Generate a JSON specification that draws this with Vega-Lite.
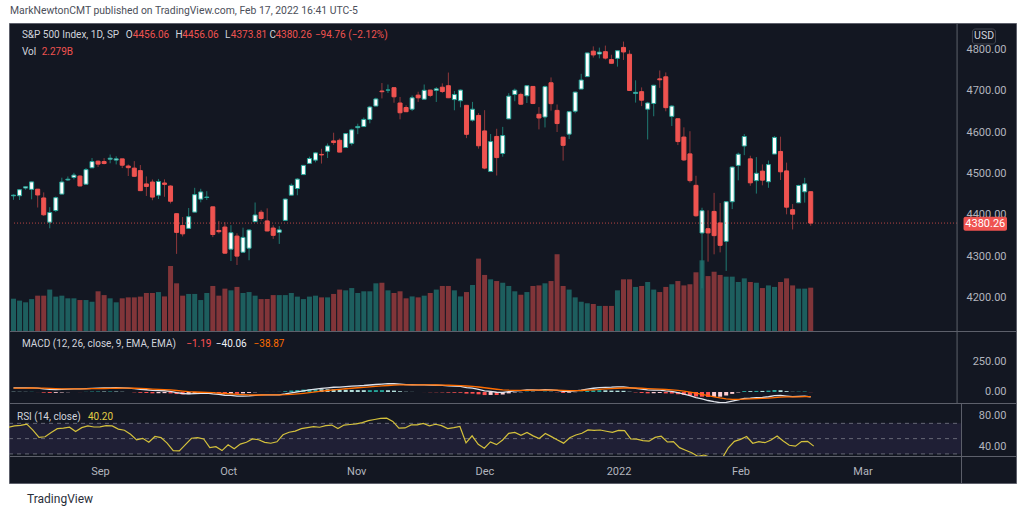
{
"$schema": "https://vega.github.io/schema/vega-lite/v6.json",
"background": "#ffffff",
"padding": {"left": 8, "right": 9, "top": 5, "bottom": 6},
"title": {"text": "MarkNewtonCMT published on TradingView.com, Feb 17, 2022 16:41 UTC-5", "anchor": "start", "fontSize": 10.4, "fontWeight": "normal", "color": "#4c4f5a", "offset": 6, "dx": 2},
"config": {"view": {"fill": "#131722", "stroke": "#5d606b", "strokeWidth": 1}, "font": "Roboto"},
"datasets": {
"one": [{"k": 1}],
"lv": [{"lv": 70}, {"lv": 50}, {"lv": 30}],
"d": [
{"i":0,"o":4446.08,"h":4449.44,"l":4436.42,"c":4447.7,"v":1.7,"m":34.0,"s":31.6,"hh":2.4,"hc":"pd","r":65.0},
{"i":1,"o":4446.27,"h":4461.77,"l":4435.96,"c":4460.83,"v":1.6,"m":33.8,"s":32.1,"hh":1.8,"hc":"pd","r":66.6},
{"i":2,"o":4464.84,"h":4468.37,"l":4460.82,"c":4468.0,"v":1.51,"m":33.9,"s":32.4,"hh":1.5,"hc":"pd","r":67.4},
{"i":3,"o":4461.65,"h":4480.26,"l":4437.66,"c":4479.71,"v":1.68,"m":34.5,"s":32.8,"hh":1.7,"hc":"pu","r":68.9},
{"i":4,"o":4462.12,"h":4462.12,"l":4417.83,"c":4448.08,"v":1.86,"m":32.1,"s":32.7,"hh":-0.6,"hc":"nd","r":61.1},
{"i":5,"o":4440.94,"h":4454.32,"l":4397.59,"c":4400.27,"v":1.86,"m":26.0,"s":31.4,"hh":-5.4,"hc":"nd","r":51.6},
{"i":6,"o":4382.44,"h":4418.61,"l":4367.73,"c":4405.8,"v":2.18,"m":21.4,"s":29.4,"hh":-8.0,"hc":"nd","r":52.5},
{"i":7,"o":4410.56,"h":4444.35,"l":4406.8,"c":4441.67,"v":1.81,"m":20.4,"s":27.6,"hh":-7.2,"hc":"nu","r":58.1},
{"i":8,"o":4450.29,"h":4489.88,"l":4450.29,"c":4479.53,"v":1.86,"m":22.4,"s":26.5,"hh":-4.2,"hc":"nu","r":63.0},
{"i":9,"o":4484.4,"h":4492.81,"l":4482.28,"c":4486.23,"v":1.72,"m":24.2,"s":26.1,"hh":-1.9,"hc":"nu","r":63.8},
{"i":10,"o":4490.45,"h":4501.71,"l":4485.66,"c":4496.19,"v":1.72,"m":26.2,"s":26.1,"hh":0.1,"hc":"pu","r":65.0},
{"i":11,"o":4493.75,"h":4495.9,"l":4468.99,"c":4469.91,"v":1.63,"m":25.3,"s":25.9,"hh":-0.6,"hc":"nd","r":59.3},
{"i":12,"o":4474.1,"h":4513.33,"l":4474.1,"c":4509.37,"v":1.63,"m":27.5,"s":26.2,"hh":1.3,"hc":"pu","r":64.4},
{"i":13,"o":4513.76,"h":4537.36,"l":4513.76,"c":4528.79,"v":1.54,"m":30.4,"s":27.1,"hh":3.4,"hc":"pu","r":66.6},
{"i":14,"o":4529.75,"h":4531.39,"l":4515.8,"c":4522.68,"v":2.09,"m":31.9,"s":28.0,"hh":3.9,"hc":"pu","r":65.2},
{"i":15,"o":4528.8,"h":4537.11,"l":4522.02,"c":4524.09,"v":1.89,"m":32.8,"s":29.0,"hh":3.8,"hc":"pd","r":65.4},
{"i":16,"o":4534.48,"h":4545.85,"l":4524.66,"c":4536.95,"v":1.72,"m":34.2,"s":30.0,"hh":4.2,"hc":"pu","r":67.0},
{"i":17,"o":4532.42,"h":4541.45,"l":4521.94,"c":4535.43,"v":1.51,"m":34.8,"s":31.0,"hh":3.8,"hc":"pd","r":66.6},
{"i":18,"o":4535.38,"h":4535.38,"l":4513.0,"c":4520.03,"v":1.72,"m":33.6,"s":31.5,"hh":2.1,"hc":"pd","r":62.5},
{"i":19,"o":4518.09,"h":4521.79,"l":4493.95,"c":4514.07,"v":1.77,"m":31.8,"s":31.6,"hh":0.2,"hc":"pd","r":61.0},
{"i":20,"o":4513.02,"h":4529.9,"l":4492.07,"c":4493.28,"v":1.77,"m":28.4,"s":30.9,"hh":-2.6,"hc":"nd","r":55.8},
{"i":21,"o":4506.92,"h":4520.47,"l":4457.66,"c":4458.58,"v":1.81,"m":22.6,"s":29.2,"hh":-6.7,"hc":"nd","r":48.3},
{"i":22,"o":4474.81,"h":4492.99,"l":4445.7,"c":4468.73,"v":2.0,"m":18.6,"s":27.1,"hh":-8.5,"hc":"nd","r":50.4},
{"i":23,"o":4479.33,"h":4485.68,"l":4435.46,"c":4443.05,"v":2.0,"m":13.2,"s":24.3,"hh":-11.1,"hc":"nd","r":45.4},
{"i":24,"o":4447.49,"h":4486.87,"l":4438.37,"c":4480.7,"v":2.05,"m":11.9,"s":21.9,"hh":-10.0,"hc":"nu","r":52.8},
{"i":25,"o":4477.09,"h":4485.87,"l":4443.8,"c":4473.75,"v":1.82,"m":10.1,"s":19.5,"hh":-9.4,"hc":"nu","r":51.4},
{"i":26,"o":4469.74,"h":4471.52,"l":4427.76,"c":4432.99,"v":3.42,"m":5.4,"s":16.7,"hh":-11.3,"hc":"nd","r":44.1},
{"i":27,"o":4402.95,"h":4402.95,"l":4305.91,"c":4357.73,"v":2.51,"m":-4.4,"s":12.5,"hh":-16.9,"hc":"nd","r":34.4},
{"i":28,"o":4374.45,"h":4394.87,"l":4347.96,"c":4354.19,"v":1.86,"m":-12.3,"s":7.5,"hh":-19.8,"hc":"nd","r":34.0},
{"i":29,"o":4367.43,"h":4416.75,"l":4367.43,"c":4395.64,"v":1.95,"m":-15.0,"s":3.0,"hh":-18.0,"hc":"nu","r":42.1},
{"i":30,"o":4406.75,"h":4465.4,"l":4406.75,"c":4448.98,"v":1.95,"m":-12.7,"s":-0.1,"hh":-12.6,"hc":"nu","r":50.5},
{"i":31,"o":4438.04,"h":4463.12,"l":4430.27,"c":4455.48,"v":1.63,"m":-10.3,"s":-2.2,"hh":-8.1,"hc":"nu","r":51.4},
{"i":32,"o":4442.12,"h":4457.3,"l":4436.19,"c":4443.11,"v":2.0,"m":-9.2,"s":-3.6,"hh":-5.7,"hc":"nu","r":49.5},
{"i":33,"o":4419.54,"h":4419.54,"l":4346.33,"c":4352.63,"v":2.37,"m":-15.5,"s":-6.0,"hh":-9.6,"hc":"nd","r":38.4},
{"i":34,"o":4362.41,"h":4385.57,"l":4355.08,"c":4359.46,"v":1.86,"m":-19.7,"s":-8.7,"hh":-11.0,"hc":"nd","r":39.5},
{"i":35,"o":4370.67,"h":4382.55,"l":4306.24,"c":4307.54,"v":2.23,"m":-26.9,"s":-12.4,"hh":-14.6,"hc":"nd","r":34.4},
{"i":36,"o":4317.16,"h":4375.19,"l":4288.52,"c":4357.04,"v":2.14,"m":-28.3,"s":-15.6,"hh":-12.8,"hc":"nu","r":42.0},
{"i":37,"o":4348.84,"h":4355.51,"l":4278.94,"c":4300.46,"v":2.32,"m":-33.6,"s":-19.2,"hh":-14.5,"hc":"nd","r":36.8},
{"i":38,"o":4309.87,"h":4369.23,"l":4309.87,"c":4345.72,"v":2.0,"m":-33.8,"s":-22.1,"hh":-11.7,"hc":"nu","r":42.9},
{"i":39,"o":4319.57,"h":4365.57,"l":4290.49,"c":4363.55,"v":2.05,"m":-32.1,"s":-24.1,"hh":-8.0,"hc":"nu","r":45.2},
{"i":40,"o":4383.73,"h":4429.97,"l":4383.73,"c":4399.76,"v":1.86,"m":-27.5,"s":-24.8,"hh":-2.7,"hc":"nu","r":49.6},
{"i":41,"o":4406.51,"h":4412.02,"l":4386.22,"c":4391.34,"v":1.68,"m":-24.3,"s":-24.7,"hh":0.4,"hc":"pu","r":48.6},
{"i":42,"o":4385.44,"h":4415.88,"l":4360.59,"c":4361.19,"v":1.68,"m":-23.9,"s":-24.5,"hh":0.7,"hc":"pu","r":45.2},
{"i":43,"o":4368.31,"h":4374.89,"l":4342.09,"c":4350.65,"v":1.89,"m":-24.1,"s":-24.4,"hh":0.3,"hc":"pd","r":44.0},
{"i":44,"o":4358.01,"h":4372.87,"l":4329.92,"c":4363.8,"v":1.89,"m":-23.0,"s":-24.1,"hh":1.2,"hc":"pu","r":45.9},
{"i":45,"o":4386.75,"h":4439.73,"l":4386.75,"c":4438.26,"v":1.89,"m":-15.9,"s":-22.5,"hh":6.6,"hc":"pu","r":55.1},
{"i":46,"o":4447.69,"h":4475.82,"l":4447.69,"c":4471.37,"v":2.0,"m":-7.5,"s":-19.5,"hh":12.0,"hc":"pu","r":58.4},
{"i":47,"o":4463.72,"h":4488.75,"l":4447.47,"c":4486.46,"v":1.81,"m":0.3,"s":-15.5,"hh":15.9,"hc":"pu","r":59.9},
{"i":48,"o":4497.34,"h":4520.4,"l":4496.41,"c":4519.63,"v":1.68,"m":9.1,"s":-10.6,"hh":19.7,"hc":"pu","r":63.0},
{"i":49,"o":4524.42,"h":4540.87,"l":4524.4,"c":4536.19,"v":1.81,"m":17.2,"s":-5.1,"hh":22.3,"hc":"pu","r":64.5},
{"i":50,"o":4532.24,"h":4551.44,"l":4526.89,"c":4549.78,"v":1.86,"m":24.5,"s":0.9,"hh":23.6,"hc":"pu","r":65.7},
{"i":51,"o":4546.12,"h":4559.67,"l":4524.0,"c":4544.9,"v":1.77,"m":29.5,"s":6.6,"hh":22.9,"hc":"pd","r":64.9},
{"i":52,"o":4553.69,"h":4572.62,"l":4537.36,"c":4566.48,"v":1.77,"m":34.8,"s":12.2,"hh":22.5,"hc":"pd","r":66.9},
{"i":53,"o":4578.69,"h":4598.53,"l":4569.17,"c":4574.79,"v":1.95,"m":39.2,"s":17.6,"hh":21.6,"hc":"pd","r":67.7},
{"i":54,"o":4580.22,"h":4584.57,"l":4551.66,"c":4551.68,"v":2.18,"m":40.4,"s":22.2,"hh":18.2,"hc":"pd","r":63.2},
{"i":55,"o":4562.84,"h":4597.55,"l":4562.84,"c":4596.42,"v":2.14,"m":44.4,"s":26.6,"hh":17.8,"hc":"pd","r":67.7},
{"i":56,"o":4572.87,"h":4608.08,"l":4567.59,"c":4605.38,"v":2.26,"m":47.8,"s":30.8,"hh":16.9,"hc":"pd","r":68.5},
{"i":57,"o":4610.62,"h":4620.34,"l":4595.06,"c":4613.67,"v":2.0,"m":50.5,"s":34.8,"hh":15.7,"hc":"pd","r":69.3},
{"i":58,"o":4613.34,"h":4635.15,"l":4613.34,"c":4630.65,"v":2.09,"m":53.4,"s":38.5,"hh":14.9,"hc":"pd","r":70.9},
{"i":59,"o":4630.65,"h":4663.46,"l":4621.19,"c":4660.57,"v":2.09,"m":57.5,"s":42.3,"hh":15.2,"hc":"pu","r":73.5},
{"i":60,"o":4662.93,"h":4683.0,"l":4662.59,"c":4680.06,"v":2.51,"m":61.6,"s":46.2,"hh":15.5,"hc":"pu","r":75.0},
{"i":61,"o":4699.26,"h":4718.5,"l":4681.32,"c":4697.53,"v":2.54,"m":65.5,"s":50.0,"hh":15.5,"hc":"pu","r":76.4},
{"i":62,"o":4701.48,"h":4714.92,"l":4694.39,"c":4701.7,"v":2.14,"m":68.2,"s":53.7,"hh":14.5,"hc":"pd","r":76.7},
{"i":63,"o":4707.25,"h":4708.53,"l":4670.87,"c":4685.25,"v":2.0,"m":68.1,"s":56.6,"hh":11.6,"hc":"pd","r":72.5},
{"i":64,"o":4670.26,"h":4684.85,"l":4630.86,"c":4646.71,"v":2.09,"m":64.3,"s":58.1,"hh":6.2,"hc":"pd","r":63.7},
{"i":65,"o":4659.39,"h":4664.55,"l":4648.31,"c":4649.27,"v":1.72,"m":60.7,"s":58.6,"hh":2.1,"hc":"pd","r":64.0},
{"i":66,"o":4655.24,"h":4688.47,"l":4650.77,"c":4682.85,"v":1.82,"m":59.9,"s":58.9,"hh":1.0,"hc":"pd","r":67.9},
{"i":67,"o":4689.3,"h":4697.42,"l":4672.86,"c":4682.8,"v":1.77,"m":58.6,"s":58.8,"hh":-0.2,"hc":"nd","r":67.9},
{"i":68,"o":4679.42,"h":4714.95,"l":4679.42,"c":4700.9,"v":1.86,"m":58.3,"s":58.7,"hh":-0.4,"hc":"nd","r":69.9},
{"i":69,"o":4701.5,"h":4701.5,"l":4684.41,"c":4688.67,"v":2.0,"m":56.5,"s":58.3,"hh":-1.8,"hc":"nd","r":66.8},
{"i":70,"o":4700.72,"h":4708.8,"l":4672.78,"c":4704.54,"v":2.18,"m":55.7,"s":57.8,"hh":-2.1,"hc":"nd","r":68.8},
{"i":71,"o":4708.44,"h":4717.75,"l":4694.22,"c":4697.96,"v":2.37,"m":53.9,"s":57.0,"hh":-3.1,"hc":"nd","r":67.0},
{"i":72,"o":4712.0,"h":4743.83,"l":4682.17,"c":4682.94,"v":2.37,"m":50.7,"s":55.7,"hh":-5.1,"hc":"nd","r":63.1},
{"i":73,"o":4678.48,"h":4699.39,"l":4652.66,"c":4690.7,"v":2.14,"m":48.2,"s":54.2,"hh":-6.0,"hc":"nd","r":64.3},
{"i":74,"o":4675.78,"h":4702.87,"l":4659.89,"c":4701.46,"v":1.82,"m":46.5,"s":52.7,"hh":-6.1,"hc":"nd","r":65.9},
{"i":75,"o":4664.63,"h":4664.63,"l":4585.43,"c":4594.62,"v":2.05,"m":36.2,"s":49.4,"hh":-13.2,"hc":"nd","r":44.5},
{"i":76,"o":4628.75,"h":4672.95,"l":4625.26,"c":4655.27,"v":2.42,"m":32.5,"s":46.0,"hh":-13.5,"hc":"nd","r":53.7},
{"i":77,"o":4640.25,"h":4646.02,"l":4560.0,"c":4567.0,"v":3.81,"m":22.3,"s":41.3,"hh":-19.0,"hc":"nd","r":42.6},
{"i":78,"o":4602.82,"h":4652.94,"l":4510.27,"c":4513.04,"v":2.95,"m":9.6,"s":34.9,"hh":-25.3,"hc":"nd","r":37.5},
{"i":79,"o":4504.73,"h":4595.46,"l":4504.73,"c":4577.1,"v":2.72,"m":4.8,"s":28.9,"hh":-24.2,"hc":"nu","r":45.8},
{"i":80,"o":4589.49,"h":4608.03,"l":4495.12,"c":4538.43,"v":2.63,"m":-2.2,"s":22.7,"hh":-24.9,"hc":"nd","r":42.2},
{"i":81,"o":4548.37,"h":4612.6,"l":4540.51,"c":4591.67,"v":2.54,"m":-3.4,"s":17.5,"hh":-20.9,"hc":"nu","r":48.2},
{"i":82,"o":4631.97,"h":4694.04,"l":4631.97,"c":4686.75,"v":2.37,"m":3.3,"s":14.6,"hh":-11.3,"hc":"nu","r":57.0},
{"i":83,"o":4690.86,"h":4705.06,"l":4674.52,"c":4701.21,"v":2.09,"m":9.6,"s":13.6,"hh":-4.0,"hc":"nu","r":58.1},
{"i":84,"o":4691.0,"h":4695.26,"l":4665.98,"c":4667.45,"v":1.91,"m":11.8,"s":13.3,"hh":-1.4,"hc":"nu","r":54.4},
{"i":85,"o":4687.64,"h":4713.57,"l":4670.24,"c":4712.02,"v":2.05,"m":17.0,"s":14.0,"hh":3.0,"hc":"pu","r":58.2},
{"i":86,"o":4710.3,"h":4710.3,"l":4667.6,"c":4668.97,"v":2.37,"m":17.3,"s":14.7,"hh":2.7,"hc":"pd","r":53.6},
{"i":87,"o":4642.99,"h":4660.47,"l":4606.52,"c":4634.09,"v":2.4,"m":14.7,"s":14.7,"hh":0.0,"hc":"pd","r":50.1},
{"i":88,"o":4636.46,"h":4712.6,"l":4611.22,"c":4709.85,"v":2.51,"m":18.5,"s":15.4,"hh":3.0,"hc":"pu","r":56.7},
{"i":89,"o":4719.13,"h":4731.99,"l":4651.89,"c":4668.67,"v":2.63,"m":17.9,"s":15.9,"hh":2.0,"hc":"pd","r":52.6},
{"i":90,"o":4652.5,"h":4666.7,"l":4600.22,"c":4620.64,"v":4.04,"m":13.5,"s":15.4,"hh":-2.0,"hc":"nd","r":48.3},
{"i":91,"o":4587.9,"h":4587.9,"l":4531.1,"c":4568.02,"v":2.37,"m":5.6,"s":13.5,"hh":-7.9,"hc":"nd","r":44.1},
{"i":92,"o":4594.96,"h":4651.14,"l":4583.16,"c":4649.23,"v":2.18,"m":5.9,"s":12.0,"hh":-6.1,"hc":"nu","r":51.2},
{"i":93,"o":4650.36,"h":4697.67,"l":4645.53,"c":4696.56,"v":1.77,"m":9.8,"s":11.5,"hh":-1.7,"hc":"nu","r":54.8},
{"i":94,"o":4703.96,"h":4740.74,"l":4703.96,"c":4725.79,"v":1.54,"m":15.1,"s":12.3,"hh":2.9,"hc":"pu","r":57.0},
{"i":95,"o":4733.99,"h":4791.49,"l":4733.99,"c":4791.19,"v":1.46,"m":24.3,"s":14.7,"hh":9.6,"hc":"pu","r":61.4},
{"i":96,"o":4795.49,"h":4807.02,"l":4780.04,"c":4786.35,"v":1.42,"m":30.8,"s":17.9,"hh":12.9,"hc":"pu","r":60.9},
{"i":97,"o":4788.64,"h":4804.06,"l":4778.08,"c":4793.06,"v":1.32,"m":36.2,"s":21.6,"hh":14.6,"hc":"pu","r":61.3},
{"i":98,"o":4794.23,"h":4808.93,"l":4775.33,"c":4778.73,"v":1.32,"m":38.8,"s":25.0,"hh":13.8,"hc":"pd","r":59.7},
{"i":99,"o":4775.21,"h":4786.83,"l":4765.75,"c":4766.18,"v":1.32,"m":39.4,"s":27.9,"hh":11.5,"hc":"pd","r":58.2},
{"i":100,"o":4778.14,"h":4796.64,"l":4758.17,"c":4796.56,"v":2.14,"m":41.8,"s":30.7,"hh":11.1,"hc":"pd","r":60.7},
{"i":101,"o":4804.51,"h":4818.62,"l":4774.27,"c":4793.54,"v":2.72,"m":43.0,"s":33.1,"hh":9.9,"hc":"pd","r":60.4},
{"i":102,"o":4787.99,"h":4797.7,"l":4699.44,"c":4700.58,"v":2.72,"m":36.0,"s":33.7,"hh":2.3,"hc":"pd","r":49.8},
{"i":103,"o":4693.39,"h":4725.01,"l":4671.26,"c":4696.05,"v":2.32,"m":29.8,"s":32.9,"hh":-3.1,"hc":"nd","r":49.4},
{"i":104,"o":4697.66,"h":4707.95,"l":4662.74,"c":4677.03,"v":2.37,"m":23.1,"s":31.0,"hh":-7.9,"hc":"nd","r":47.4},
{"i":105,"o":4655.34,"h":4673.02,"l":4582.24,"c":4670.29,"v":2.58,"m":17.0,"s":28.2,"hh":-11.2,"hc":"nd","r":46.7},
{"i":106,"o":4669.14,"h":4714.13,"l":4638.27,"c":4713.07,"v":2.18,"m":15.4,"s":25.6,"hh":-10.2,"hc":"nu","r":51.6},
{"i":107,"o":4728.59,"h":4748.83,"l":4706.71,"c":4726.35,"v":2.05,"m":15.1,"s":23.5,"hh":-8.4,"hc":"nu","r":53.1},
{"i":108,"o":4733.56,"h":4744.13,"l":4650.29,"c":4659.03,"v":2.32,"m":9.3,"s":20.7,"hh":-11.4,"hc":"nd","r":45.6},
{"i":109,"o":4637.99,"h":4665.13,"l":4614.75,"c":4662.85,"v":2.46,"m":5.0,"s":17.5,"hh":-12.6,"hc":"nd","r":46.1},
{"i":110,"o":4632.24,"h":4632.24,"l":4568.7,"c":4577.11,"v":2.63,"m":-5.3,"s":13.0,"hh":-18.3,"hc":"nd","r":38.2},
{"i":111,"o":4588.03,"h":4611.55,"l":4530.2,"c":4532.76,"v":2.4,"m":-16.9,"s":7.0,"hh":-23.9,"hc":"nd","r":34.9},
{"i":112,"o":4547.35,"h":4602.11,"l":4477.95,"c":4482.73,"v":2.46,"m":-29.7,"s":-0.4,"hh":-29.4,"hc":"nd","r":31.6},
{"i":113,"o":4471.38,"h":4494.52,"l":4395.34,"c":4397.94,"v":3.09,"m":-46.2,"s":-9.5,"hh":-36.7,"hc":"nd","r":26.9},
{"i":114,"o":4356.32,"h":4417.35,"l":4222.62,"c":4410.13,"v":3.72,"m":-57.6,"s":-19.2,"hh":-38.5,"hc":"nd","r":28.6},
{"i":115,"o":4366.64,"h":4411.01,"l":4287.11,"c":4356.45,"v":2.89,"m":-70.2,"s":-29.4,"hh":-40.8,"hc":"nd","r":25.8},
{"i":116,"o":4408.43,"h":4453.23,"l":4304.8,"c":4349.93,"v":3.12,"m":-79.8,"s":-39.4,"hh":-40.3,"hc":"nu","r":25.5},
{"i":117,"o":4380.58,"h":4428.74,"l":4309.5,"c":4326.51,"v":2.95,"m":-88.2,"s":-49.2,"hh":-39.0,"hc":"nu","r":24.3},
{"i":118,"o":4336.19,"h":4432.72,"l":4264.71,"c":4431.85,"v":2.86,"m":-85.5,"s":-56.5,"hh":-29.0,"hc":"nu","r":38.1},
{"i":119,"o":4431.79,"h":4516.89,"l":4414.02,"c":4515.55,"v":2.86,"m":-75.6,"s":-60.3,"hh":-15.3,"hc":"nu","r":46.4},
{"i":120,"o":4519.57,"h":4550.49,"l":4483.53,"c":4546.54,"v":2.58,"m":-64.6,"s":-61.1,"hh":-3.5,"hc":"nu","r":49.1},
{"i":121,"o":4566.39,"h":4595.31,"l":4544.32,"c":4589.38,"v":2.77,"m":-51.8,"s":-59.3,"hh":7.5,"hc":"pu","r":52.7},
{"i":122,"o":4535.41,"h":4542.88,"l":4470.39,"c":4477.44,"v":2.58,"m":-50.1,"s":-57.4,"hh":7.3,"hc":"pd","r":44.0},
{"i":123,"o":4482.79,"h":4539.66,"l":4451.5,"c":4500.53,"v":2.54,"m":-46.4,"s":-55.2,"hh":8.9,"hc":"pu","r":46.0},
{"i":124,"o":4505.75,"h":4521.86,"l":4471.47,"c":4483.87,"v":2.26,"m":-44.2,"s":-53.0,"hh":8.8,"hc":"pd","r":44.7},
{"i":125,"o":4480.02,"h":4531.32,"l":4465.4,"c":4521.54,"v":2.4,"m":-39.1,"s":-50.2,"hh":11.2,"hc":"pu","r":48.1},
{"i":126,"o":4547.0,"h":4590.03,"l":4547.0,"c":4587.18,"v":2.32,"m":-29.3,"s":-46.1,"hh":16.7,"hc":"pu","r":53.5},
{"i":127,"o":4553.24,"h":4588.92,"l":4484.31,"c":4504.08,"v":2.58,"m":-28.0,"s":-42.4,"hh":14.5,"hc":"pd","r":46.9},
{"i":128,"o":4506.27,"h":4526.33,"l":4401.41,"c":4418.64,"v":2.77,"m":-33.4,"s":-40.6,"hh":7.2,"hc":"pd","r":41.3},
{"i":129,"o":4412.61,"h":4426.22,"l":4364.84,"c":4401.67,"v":2.4,"m":-38.7,"s":-40.3,"hh":1.6,"hc":"pd","r":40.2},
{"i":130,"o":4429.28,"h":4472.77,"l":4429.28,"c":4471.07,"v":2.23,"m":-36.8,"s":-39.6,"hh":2.8,"hc":"pu","r":46.2},
{"i":131,"o":4455.75,"h":4489.55,"l":4429.68,"c":4475.01,"v":2.23,"m":-34.6,"s":-38.6,"hh":4.0,"hc":"pu","r":46.5},
{"i":132,"o":4456.06,"h":4456.06,"l":4373.81,"c":4380.26,"v":2.28,"m":-40.1,"s":-38.9,"hh":-1.2,"hc":"nd","r":40.2}
]
},
"spacing": 0,
"bounds": "flush",
"resolve": {"scale": {"y": "independent", "color": "independent"}},
"vconcat": [
{
"width": 1007, "height": 308,
"data": {"name": "d"},
"resolve": {"scale": {"y": "independent"}},
"layer": [
{"mark": {"type": "bar", "size": 5, "clip": true},
 "encoding": {
  "x": {"field": "i", "type": "quantitative", "scale": {"domain": [0.08, 165.16], "nice": false, "zero": false}, "axis": null},
  "y": {"field": "v", "type": "quantitative", "scale": {"domain": [0, 16.21], "nice": false}, "axis": null},
  "color": {"condition": {"test": "datum.c >= datum.o", "value": "#1d5e5e"}, "value": "#813539"}}},
{"layer": [
 {"mark": {"type": "rule", "strokeWidth": 1, "clip": true},
  "encoding": {
   "x": {"field": "i", "type": "quantitative", "scale": {"domain": [0.08, 165.16], "nice": false, "zero": false}, "axis": null},
   "y": {"field": "l", "type": "quantitative", "scale": {"domain": [4119.6, 4863.5], "nice": false, "zero": false},
         "axis": {"orient": "right", "values": [4200, 4300, 4400, 4500, 4600, 4700, 4800], "format": ".2f", "labelAlign": "right", "labelPadding": -10, "labelBaseline": "middle", "ticks": false, "domain": false, "grid": false, "labelColor": "#b2b5be", "labelFontSize": 11, "title": null, "zindex": 0}},
   "y2": {"field": "h"},
   "color": {"condition": {"test": "datum.c >= datum.o", "value": "#1f7a72"}, "value": "#8f383b"}}},
 {"mark": {"type": "bar", "size": 4, "strokeWidth": 1, "clip": true},
  "encoding": {
   "x": {"field": "i", "type": "quantitative", "scale": {"domain": [0.08, 165.16], "nice": false, "zero": false}, "axis": null},
   "y": {"field": "o", "type": "quantitative", "scale": {"domain": [4119.6, 4863.5], "nice": false, "zero": false}},
   "y2": {"field": "c"},
   "fill": {"condition": {"test": "datum.c >= datum.o", "value": "#ffffff"}, "value": "#ef5350"},
   "stroke": {"condition": {"test": "datum.c >= datum.o", "value": "#26a69a"}, "value": "#ef5350"}}},
 {"data": {"name": "one"},
  "mark": {"type": "rule", "color": "#ef5350", "strokeDash": [1, 2], "opacity": 0.75},
  "encoding": {
   "x": {"datum": 0.08, "type": "quantitative", "scale": {"domain": [0.08, 165.16], "nice": false, "zero": false}},
   "x2": {"datum": 156.23},
   "y": {"datum": 4380.26, "type": "quantitative", "scale": {"domain": [4119.6, 4863.5], "nice": false, "zero": false}}}},
 {"data": {"name": "one"},
  "mark": {"type": "rule", "color": "#5d606b", "strokeWidth": 1},
  "encoding": {"x": {"datum": 156.23, "type": "quantitative", "scale": {"domain": [0.08, 165.16], "nice": false, "zero": false}}}},
 {"data": {"name": "one"},
  "mark": {"type": "rect", "color": "#ef5350", "cornerRadius": 2},
  "encoding": {
   "x": {"datum": 157.3, "type": "quantitative", "scale": {"domain": [0.08, 165.16], "nice": false, "zero": false}},
   "x2": {"datum": 164.5},
   "y": {"datum": 4395.6, "type": "quantitative", "scale": {"domain": [4119.6, 4863.5], "nice": false, "zero": false}},
   "y2": {"datum": 4361.8}}},
 {"data": {"name": "one"},
  "mark": {"type": "text", "text": "4380.26", "align": "center", "baseline": "middle", "fontSize": 11, "color": "#ffffff"},
  "encoding": {
   "x": {"datum": 160.9, "type": "quantitative", "scale": {"domain": [0.08, 165.16], "nice": false, "zero": false}},
   "y": {"datum": 4378.7, "type": "quantitative", "scale": {"domain": [4119.6, 4863.5], "nice": false, "zero": false}}}},
 {"data": {"name": "one"},
  "mark": {"type": "rect", "fill": "#131722", "stroke": "#434651", "strokeWidth": 1, "cornerRadius": 3},
  "encoding": {
   "x": {"datum": 158.77, "type": "quantitative", "scale": {"domain": [0.08, 165.16], "nice": false, "zero": false}},
   "x2": {"datum": 162.6},
   "y": {"datum": 4849, "type": "quantitative", "scale": {"domain": [4119.6, 4863.5], "nice": false, "zero": false}},
   "y2": {"datum": 4812.8}}},
 {"data": {"name": "one"},
  "mark": {"type": "text", "text": "USD", "align": "center", "baseline": "middle", "fontSize": 10.5, "color": "#d1d4dc"},
  "encoding": {
   "x": {"datum": 160.7, "type": "quantitative", "scale": {"domain": [0.08, 165.16], "nice": false, "zero": false}},
   "y": {"datum": 4831, "type": "quantitative", "scale": {"domain": [4119.6, 4863.5], "nice": false, "zero": false}}}},
 {"data": {"name": "one"},
  "mark": {"type": "text", "text": "S&P 500 Index, 1D, SP", "align": "left", "baseline": "middle", "fontSize": 10, "color": "#d1d4dc"},
  "encoding": {
   "x": {"datum": 1.39, "type": "quantitative", "scale": {"domain": [0.08, 165.16], "nice": false, "zero": false}},
   "y": {"datum": 4834.5, "type": "quantitative", "scale": {"domain": [4119.6, 4863.5], "nice": false, "zero": false}}}},
 {"data": {"name": "one"},
  "mark": {"type": "text", "text": "O", "align": "left", "baseline": "middle", "fontSize": 10, "color": "#d1d4dc"},
  "encoding": {
   "x": {"datum": 18.6, "type": "quantitative", "scale": {"domain": [0.08, 165.16], "nice": false, "zero": false}},
   "y": {"datum": 4834.5, "type": "quantitative", "scale": {"domain": [4119.6, 4863.5], "nice": false, "zero": false}}}},
 {"data": {"name": "one"},
  "mark": {"type": "text", "text": "4456.06", "align": "left", "baseline": "middle", "fontSize": 10, "color": "#ef5350"},
  "encoding": {
   "x": {"datum": 19.75, "type": "quantitative", "scale": {"domain": [0.08, 165.16], "nice": false, "zero": false}},
   "y": {"datum": 4834.5, "type": "quantitative", "scale": {"domain": [4119.6, 4863.5], "nice": false, "zero": false}}}},
 {"data": {"name": "one"},
  "mark": {"type": "text", "text": "H", "align": "left", "baseline": "middle", "fontSize": 10, "color": "#d1d4dc"},
  "encoding": {
   "x": {"datum": 26.8, "type": "quantitative", "scale": {"domain": [0.08, 165.16], "nice": false, "zero": false}},
   "y": {"datum": 4834.5, "type": "quantitative", "scale": {"domain": [4119.6, 4863.5], "nice": false, "zero": false}}}},
 {"data": {"name": "one"},
  "mark": {"type": "text", "text": "4456.06", "align": "left", "baseline": "middle", "fontSize": 10, "color": "#ef5350"},
  "encoding": {
   "x": {"datum": 27.95, "type": "quantitative", "scale": {"domain": [0.08, 165.16], "nice": false, "zero": false}},
   "y": {"datum": 4834.5, "type": "quantitative", "scale": {"domain": [4119.6, 4863.5], "nice": false, "zero": false}}}},
 {"data": {"name": "one"},
  "mark": {"type": "text", "text": "L", "align": "left", "baseline": "middle", "fontSize": 10, "color": "#d1d4dc"},
  "encoding": {
   "x": {"datum": 35.0, "type": "quantitative", "scale": {"domain": [0.08, 165.16], "nice": false, "zero": false}},
   "y": {"datum": 4834.5, "type": "quantitative", "scale": {"domain": [4119.6, 4863.5], "nice": false, "zero": false}}}},
 {"data": {"name": "one"},
  "mark": {"type": "text", "text": "4373.81", "align": "left", "baseline": "middle", "fontSize": 10, "color": "#ef5350"},
  "encoding": {
   "x": {"datum": 35.98, "type": "quantitative", "scale": {"domain": [0.08, 165.16], "nice": false, "zero": false}},
   "y": {"datum": 4834.5, "type": "quantitative", "scale": {"domain": [4119.6, 4863.5], "nice": false, "zero": false}}}},
 {"data": {"name": "one"},
  "mark": {"type": "text", "text": "C", "align": "left", "baseline": "middle", "fontSize": 10, "color": "#d1d4dc"},
  "encoding": {
   "x": {"datum": 42.4, "type": "quantitative", "scale": {"domain": [0.08, 165.16], "nice": false, "zero": false}},
   "y": {"datum": 4834.5, "type": "quantitative", "scale": {"domain": [4119.6, 4863.5], "nice": false, "zero": false}}}},
 {"data": {"name": "one"},
  "mark": {"type": "text", "text": "4380.26", "align": "left", "baseline": "middle", "fontSize": 10, "color": "#ef5350"},
  "encoding": {
   "x": {"datum": 43.36, "type": "quantitative", "scale": {"domain": [0.08, 165.16], "nice": false, "zero": false}},
   "y": {"datum": 4834.5, "type": "quantitative", "scale": {"domain": [4119.6, 4863.5], "nice": false, "zero": false}}}},
 {"data": {"name": "one"},
  "mark": {"type": "text", "text": "−94.76 (−2.12%)", "align": "left", "baseline": "middle", "fontSize": 10, "color": "#ef5350"},
  "encoding": {
   "x": {"datum": 49.9, "type": "quantitative", "scale": {"domain": [0.08, 165.16], "nice": false, "zero": false}},
   "y": {"datum": 4834.5, "type": "quantitative", "scale": {"domain": [4119.6, 4863.5], "nice": false, "zero": false}}}},
 {"data": {"name": "one"},
  "mark": {"type": "text", "text": "Vol", "align": "left", "baseline": "middle", "fontSize": 10, "color": "#d1d4dc"},
  "encoding": {
   "x": {"datum": 1.39, "type": "quantitative", "scale": {"domain": [0.08, 165.16], "nice": false, "zero": false}},
   "y": {"datum": 4793.5, "type": "quantitative", "scale": {"domain": [4119.6, 4863.5], "nice": false, "zero": false}}}},
 {"data": {"name": "one"},
  "mark": {"type": "text", "text": "2.279B", "align": "left", "baseline": "middle", "fontSize": 10, "color": "#ef5350"},
  "encoding": {
   "x": {"datum": 4.67, "type": "quantitative", "scale": {"domain": [0.08, 165.16], "nice": false, "zero": false}},
   "y": {"datum": 4793.5, "type": "quantitative", "scale": {"domain": [4119.6, 4863.5], "nice": false, "zero": false}}}}
]}
]
},
{
"width": 1007, "height": 72,
"data": {"name": "d"},
"layer": [
 {"mark": {"type": "bar", "size": 4, "clip": true},
  "encoding": {
   "x": {"field": "i", "type": "quantitative", "scale": {"domain": [0.08, 165.16], "nice": false, "zero": false}, "axis": null},
   "y": {"field": "hh", "type": "quantitative", "scale": {"domain": [-90.7, 502.7], "nice": false, "zero": false},
         "axis": {"orient": "right", "values": [0, 250], "format": ".2f", "labelAlign": "right", "labelPadding": -10, "labelBaseline": "middle", "ticks": false, "domain": false, "grid": false, "labelColor": "#b2b5be", "labelFontSize": 11, "title": null}},
   "y2": {"datum": 0},
   "color": {"field": "hc", "type": "nominal", "scale": {"domain": ["pu", "pd", "nu", "nd"], "range": ["#26a69a", "#b2dfdb", "#ffcdd2", "#ff5252"]}, "legend": null}}},
 {"mark": {"type": "line", "color": "#e0e3eb", "strokeWidth": 1.3, "clip": true},
  "encoding": {
   "x": {"field": "i", "type": "quantitative", "scale": {"domain": [0.08, 165.16], "nice": false, "zero": false}},
   "y": {"field": "m", "type": "quantitative", "scale": {"domain": [-90.7, 502.7], "nice": false, "zero": false}}}},
 {"mark": {"type": "line", "color": "#ff6d00", "strokeWidth": 1.3, "clip": true},
  "encoding": {
   "x": {"field": "i", "type": "quantitative", "scale": {"domain": [0.08, 165.16], "nice": false, "zero": false}},
   "y": {"field": "s", "type": "quantitative", "scale": {"domain": [-90.7, 502.7], "nice": false, "zero": false}}}},
 {"data": {"name": "one"},
  "mark": {"type": "rule", "color": "#5d606b", "strokeWidth": 1},
  "encoding": {"x": {"datum": 156.23, "type": "quantitative", "scale": {"domain": [0.08, 165.16], "nice": false, "zero": false}}}},
 {"data": {"name": "one"},
  "mark": {"type": "text", "text": "MACD (12, 26, close, 9, EMA, EMA)", "align": "left", "baseline": "middle", "fontSize": 10, "color": "#d1d4dc"},
  "encoding": {
   "x": {"datum": 1.39, "type": "quantitative", "scale": {"domain": [0.08, 165.16], "nice": false, "zero": false}},
   "y": {"datum": 395.5, "type": "quantitative", "scale": {"domain": [-90.7, 502.7], "nice": false, "zero": false}}}},
 {"data": {"name": "one"},
  "mark": {"type": "text", "text": "−1.19", "align": "left", "baseline": "middle", "fontSize": 10, "color": "#ff5252"},
  "encoding": {
   "x": {"datum": 28.6, "type": "quantitative", "scale": {"domain": [0.08, 165.16], "nice": false, "zero": false}},
   "y": {"datum": 395.5, "type": "quantitative", "scale": {"domain": [-90.7, 502.7], "nice": false, "zero": false}}}},
 {"data": {"name": "one"},
  "mark": {"type": "text", "text": "−40.06", "align": "left", "baseline": "middle", "fontSize": 10, "color": "#f0f3fa"},
  "encoding": {
   "x": {"datum": 33.5, "type": "quantitative", "scale": {"domain": [0.08, 165.16], "nice": false, "zero": false}},
   "y": {"datum": 395.5, "type": "quantitative", "scale": {"domain": [-90.7, 502.7], "nice": false, "zero": false}}}},
 {"data": {"name": "one"},
  "mark": {"type": "text", "text": "−38.87", "align": "left", "baseline": "middle", "fontSize": 10, "color": "#ff6d00"},
  "encoding": {
   "x": {"datum": 39.75, "type": "quantitative", "scale": {"domain": [0.08, 165.16], "nice": false, "zero": false}},
   "y": {"datum": 395.5, "type": "quantitative", "scale": {"domain": [-90.7, 502.7], "nice": false, "zero": false}}}}
]
},
{
"width": 1007, "height": 53,
"data": {"name": "d"},
"layer": [
 {"data": {"name": "one"},
  "mark": {"type": "rect", "color": "#7e57c2", "opacity": 0.12},
  "encoding": {
   "x": {"datum": 0.08, "type": "quantitative", "scale": {"domain": [0.08, 165.16], "nice": false, "zero": false}, "axis": null},
   "x2": {"datum": 156.23},
   "y": {"datum": 70, "type": "quantitative", "scale": {"domain": [27.3, 96.6], "nice": false, "zero": false},
         "axis": {"orient": "right", "values": [40, 80], "format": ".2f", "labelAlign": "right", "labelPadding": -10, "labelBaseline": "middle", "ticks": false, "domain": false, "grid": false, "labelColor": "#b2b5be", "labelFontSize": 11, "title": null}},
   "y2": {"datum": 30}}},
 {"data": {"name": "lv"},
  "mark": {"type": "rule", "color": "#787b86", "strokeDash": [4, 4], "strokeWidth": 1, "opacity": 0.8},
  "encoding": {
   "x": {"datum": 0.08, "type": "quantitative", "scale": {"domain": [0.08, 165.16], "nice": false, "zero": false}},
   "x2": {"datum": 156.23},
   "y": {"field": "lv", "type": "quantitative", "scale": {"domain": [27.3, 96.6], "nice": false, "zero": false}}}},
 {"mark": {"type": "line", "color": "#d4c13c", "strokeWidth": 1.2, "clip": true},
  "encoding": {
   "x": {"field": "i", "type": "quantitative", "scale": {"domain": [0.08, 165.16], "nice": false, "zero": false}},
   "y": {"field": "r", "type": "quantitative", "scale": {"domain": [27.3, 96.6], "nice": false, "zero": false}}}},
 {"data": {"name": "one"},
  "mark": {"type": "rule", "color": "#5d606b", "strokeWidth": 1},
  "encoding": {"x": {"datum": 156.23, "type": "quantitative", "scale": {"domain": [0.08, 165.16], "nice": false, "zero": false}}}},
 {"data": {"name": "one"},
  "mark": {"type": "text", "text": "RSI (14, close)", "align": "left", "baseline": "middle", "fontSize": 10, "color": "#d1d4dc"},
  "encoding": {
   "x": {"datum": 1.39, "type": "quantitative", "scale": {"domain": [0.08, 165.16], "nice": false, "zero": false}},
   "y": {"datum": 77.9, "type": "quantitative", "scale": {"domain": [27.3, 96.6], "nice": false, "zero": false}}}},
 {"data": {"name": "one"},
  "mark": {"type": "text", "text": "40.20", "align": "left", "baseline": "middle", "fontSize": 10, "color": "#e3cf45"},
  "encoding": {
   "x": {"datum": 13.03, "type": "quantitative", "scale": {"domain": [0.08, 165.16], "nice": false, "zero": false}},
   "y": {"datum": 77.9, "type": "quantitative", "scale": {"domain": [27.3, 96.6], "nice": false, "zero": false}}}}
]
},
{
"width": 1007, "height": 27,
"data": {"name": "one"},
"title": {"text": "TradingView", "orient": "bottom", "anchor": "start", "offset": 10, "fontSize": 12, "fontWeight": "normal", "color": "#2a2e39", "dx": 18},
"mark": {"type": "rule", "color": "#5d606b", "strokeWidth": 1},
"encoding": {
 "x": {"datum": 156.23, "type": "quantitative", "scale": {"domain": [0.08, 165.16], "nice": false, "zero": false},
       "axis": {"orient": "bottom", "values": [15, 36, 57, 78, 100, 120, 140], "labelExpr": "datum.value == 15 ? 'Sep' : datum.value == 36 ? 'Oct' : datum.value == 57 ? 'Nov' : datum.value == 78 ? 'Dec' : datum.value == 100 ? '2022' : datum.value == 120 ? 'Feb' : 'Mar'", "labelPadding": -12, "labelBaseline": "middle", "labelFlush": false, "ticks": false, "domain": false, "grid": false, "labelColor": "#b2b5be", "labelFontSize": 11, "title": null}}
}
}
]
}
